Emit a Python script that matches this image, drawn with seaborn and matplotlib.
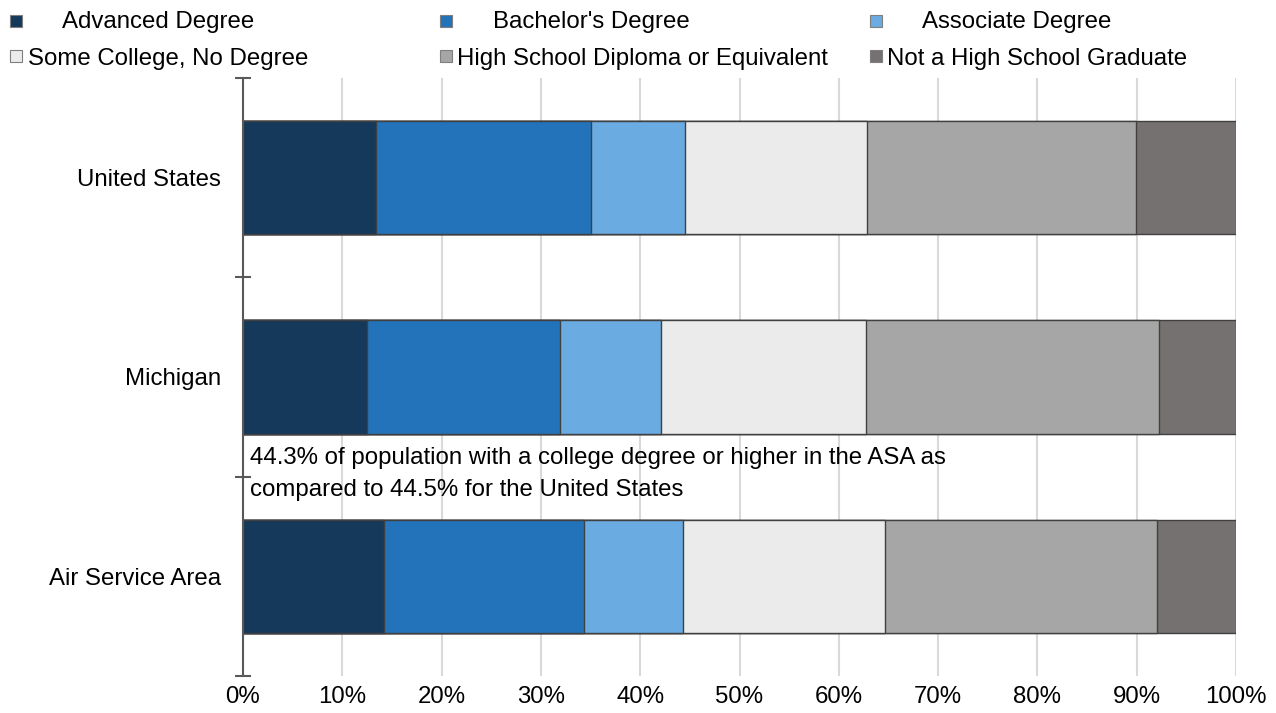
import numpy as np
import pandas as pd
import matplotlib
matplotlib.use("Agg")
import matplotlib.pyplot as plt
from matplotlib.patches import Rectangle
from matplotlib.ticker import FixedLocator
import seaborn as sns

# Educational attainment shares (percent of adult population)
regions = ["United States", "Michigan", "Air Service Area"]
levels = ["Advanced Degree", "Bachelor's Degree", "Associate Degree",
          "Some College, No Degree", "High School Diploma or Equivalent",
          "Not a High School Graduate"]
advanced = [13.4, 12.5, 14.2]
bachelors = [21.6, 19.4, 20.1]
associate = [9.5, 10.2, 10.0]
some_college = [18.3, 20.6, 20.4]
high_school = [27.1, 29.5, 27.3]
no_diploma = [10.1, 7.8, 8.0]
x_ticks = [0, 10, 20, 30, 40, 50, 60, 70, 80, 90, 100]
note = ("44.3% of population with a college degree or higher in the ASA as\n"
        "compared to 44.5% for the United States")

colors = ["#14395B", "#2373BA", "#6AABE2", "#EBEBEB", "#A6A6A6", "#767171"]

sns.set_style("white")
plt.rcParams["font.family"] = ["Liberation Sans", "DejaVu Sans"]
plt.rcParams["text.color"] = "black"
plt.rcParams["xtick.labelcolor"] = "black"
plt.rcParams["ytick.labelcolor"] = "black"
FS = 17.3

W, H = 1276, 713
fig = plt.figure(figsize=(W / 100, H / 100), dpi=100)
ax = fig.add_axes([243 / W, 1 - 676 / H, (1236 - 243) / W, (676 - 78) / H])

series = [advanced, bachelors, associate, some_college, high_school, no_diploma]
cum = np.cumsum(np.array(series), axis=0)

# Stacked bars: draw cumulative totals from the outermost segment inward
for i in range(len(levels) - 1, -1, -1):
    df = pd.DataFrame({"region": regions, "value": cum[i]})
    sns.barplot(data=df, x="value", y="region", order=regions, orient="h",
                color=colors[i], saturation=1, width=0.57,
                edgecolor="#404040", linewidth=1.0, ax=ax, zorder=2)

ax.set_xlim(0, 100)
ax.set_ylim(2.5, -0.5)
ax.set_xlabel("")
ax.set_ylabel("")
ax.set_xticks(x_ticks)
ax.set_xticklabels([f"{v}%" for v in x_ticks], fontsize=FS)
ax.tick_params(axis="x", length=0, pad=7, labelcolor="black")
ax.tick_params(axis="y", which="major", length=0, pad=16, labelsize=FS,
               labelcolor="black")
ax.yaxis.set_minor_locator(FixedLocator([-0.5, 0.5, 1.5, 2.5]))
ax.tick_params(axis="y", which="minor", left=True, direction="inout",
               length=11, width=1.5, color="#595959")

ax.xaxis.grid(True, color="#D9D9D9", linewidth=1.5, zorder=0)
ax.yaxis.grid(False)
ax.set_axisbelow(True)
for side in ["top", "right", "bottom"]:
    ax.spines[side].set_visible(False)
ax.spines["left"].set_color("#595959")
ax.spines["left"].set_linewidth(1.5)
ax.spines["left"].set_zorder(5)

ax.text(0.7, 1.487, note, ha="left", va="center", fontsize=FS,
        linespacing=1.6, color="black", zorder=6)

# Legend laid out as a 3x2 grid above the plot
marker_x = [10, 440, 870]
row_box = [(15, 27), (50, 62)]
row_baseline = [28, 65]
text_x = [[62, 493, 922], [28, 457, 887]]
for k, (label, col) in enumerate(zip(levels, colors)):
    r, c = divmod(k, 3)
    y0, y1 = row_box[r]
    fig.add_artist(Rectangle((marker_x[c] / W, 1 - y1 / H), 12 / W, (y1 - y0) / H,
                             transform=fig.transFigure, facecolor=col,
                             edgecolor="#7F7F7F", linewidth=0.8))
    fig.text(text_x[r][c] / W, 1 - row_baseline[r] / H, label,
             ha="left", va="baseline", fontsize=FS, color="black")

fig.savefig("out.png", dpi=100, facecolor="white")
